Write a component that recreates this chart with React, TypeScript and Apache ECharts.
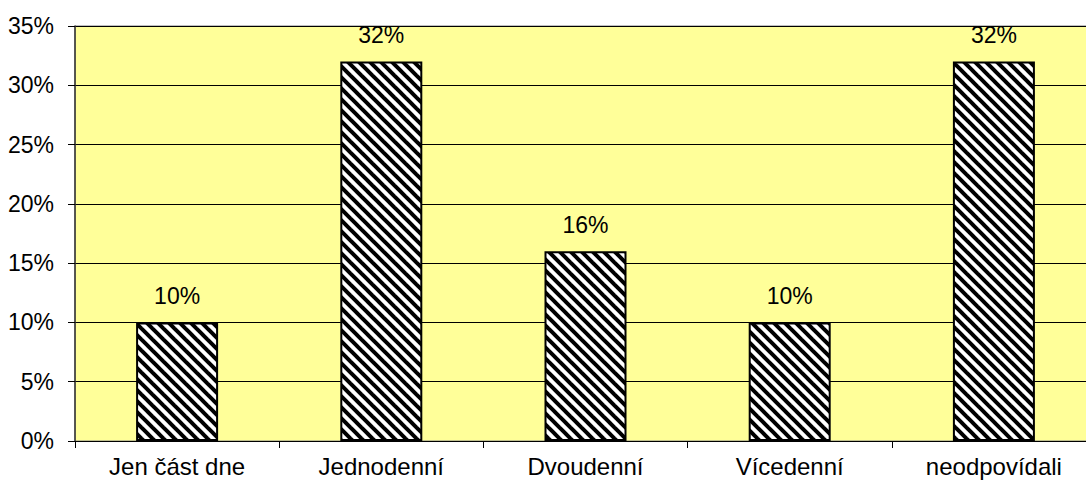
import React, { useEffect, useRef } from "react";
import * as echarts from "echarts";

const categories = ["Jen část dne", "Jednodenní", "Dvoudenní", "Vícedenní", "neodpovídali"];
const shares = [10, 32, 16, 10, 32];
const yTicks = [0, 5, 10, 15, 20, 25, 30, 35];

const FONT = "'Liberation Sans', Arial, sans-serif";

// Diagonal black/white hatch tile used as the bar fill
function makeHatch(): HTMLCanvasElement {
  const size = 11;
  const c = document.createElement("canvas");
  c.width = size;
  c.height = size;
  const ctx = c.getContext("2d")!;
  ctx.fillStyle = "#ffffff";
  ctx.fillRect(0, 0, size, size);
  ctx.strokeStyle = "#000000";
  ctx.lineWidth = 4;
  for (let k = -1; k <= 1; k++) {
    ctx.beginPath();
    ctx.moveTo(k * size - 2, -2);
    ctx.lineTo(k * size + size + 2, size + 2);
    ctx.stroke();
  }
  return c;
}

export default function App() {
  const ref = useRef<HTMLDivElement>(null);

  useEffect(() => {
    if (!ref.current) return;
    const chart = echarts.init(ref.current, null, { renderer: "svg" });
    const hatch = makeHatch();
    chart.setOption({
      animation: false,
      grid: {
        left: 75,
        right: 0,
        top: 26,
        bottom: 50,
        show: true,
        backgroundColor: "#ffff99",
        borderColor: "#808080",
        borderWidth: 1,
      },
      xAxis: {
        type: "category",
        data: categories,
        axisLine: { show: true, lineStyle: { color: "#000", width: 1 } },
        axisTick: { show: true, alignWithLabel: false, length: 7, lineStyle: { color: "#000" } },
        axisLabel: { fontFamily: FONT, fontSize: 24, color: "#000", margin: 13 },
      },
      yAxis: {
        type: "value",
        min: yTicks[0],
        max: yTicks[yTicks.length - 1],
        interval: 5,
        axisLine: { show: true, lineStyle: { color: "#333", width: 1.5 } },
        axisTick: { show: true, length: 7, lineStyle: { color: "#000" } },
        axisLabel: {
          fontFamily: FONT,
          fontSize: 23,
          color: "#000",
          margin: 21,
          formatter: (v: number) => `${v}%`,
        },
        splitLine: { show: true, lineStyle: { color: "#000", width: 1 } },
      },
      series: [
        {
          type: "bar",
          data: shares,
          barWidth: 82,
          itemStyle: {
            color: { image: hatch, repeat: "repeat", imageWidth: 11, imageHeight: 11 },
            borderColor: "#000",
            borderWidth: 2,
          },
          label: {
            show: true,
            position: "top",
            distance: 15,
            fontFamily: FONT,
            fontSize: 23,
            color: "#000",
            formatter: (p: any) => `${p.value}%`,
          },
        },
      ],
    });
    return () => chart.dispose();
  }, []);

  // The plot runs a little past the right edge of the visible frame
  return (
    <div style={{ position: "fixed", left: 0, top: 0, width: 1086, height: 491, overflow: "hidden", background: "#fff" }}>
      <div ref={ref} style={{ width: 1096, height: 491 }} />
    </div>
  );
}
